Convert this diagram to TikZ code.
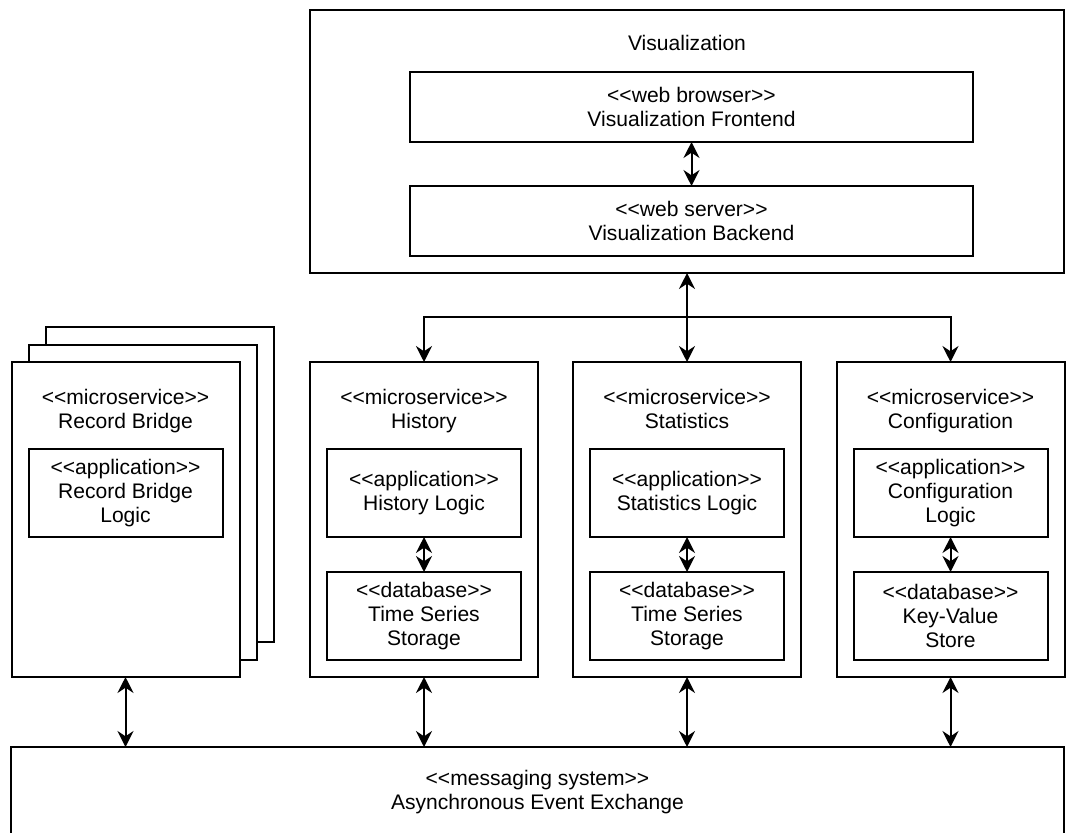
\documentclass[tikz,border=0pt]{standalone}
\usepackage{fontspec}
\setmainfont{Liberation Sans}[Ligatures=TeXOff]
\usetikzlibrary{arrows.meta}

\begin{document}
\begin{tikzpicture}[x=0.75pt,y=-0.75pt,
    every node/.style={font=\fontsize{15.8}{18}\selectfont, align=center},
    box/.style={draw, line width=1.5pt, fill=white, inner sep=0pt, outer sep=0pt},
    svc/.style={box, minimum width=171pt, minimum height=236.25pt},
    part/.style={box, minimum width=145.5pt, minimum height=66pt},
    title/.style={anchor=north, inner sep=0pt},
    link/.style={line width=1.5pt, {Stealth[length=12pt, width=12pt, inset=4pt]}-{Stealth[length=12pt, width=12pt, inset=4pt]}},
    tip/.style={line width=1.5pt, -{Stealth[length=12pt, width=12pt, inset=4pt]}}]
      \useasboundingbox (0,0) rectangle (1066,832);
      % visualization
      \node[box, minimum width=565.5pt, minimum height=197.25pt] (vis) at (687,141.5) {};
      \node[title] (vistitle) at (687,35) {Visualization};
      \node[box, minimum width=422.25pt, minimum height=52.5pt] (front) at (691.5,107) {<<web browser>>\\Visualization Frontend};
      \node[box, minimum width=422.25pt, minimum height=52.5pt] (back) at (691.5,221) {<<web server>>\\Visualization Backend};
      \draw[link] (front) -- (back);
      % record bridge stack
      \node[svc] (rb3) at (160,484.5) {};
      \node[svc] (rb2) at (142.5,502) {};
      \node[svc] (rb1) at (125.5,519.5) {};
      \node[title] (rbtitle) at (125.5,389) {<<microservice>>\\Record Bridge};
      \node[part] (rbapp) at (125.5,493) {<<application>>\\Record Bridge\\Logic};
      % microservices
      \node[svc] (hist) at (424,519.5) {};
      \node[title] (histtitle) at (424,389) {<<microservice>>\\History};
      \node[part] (histapp) at (424,493) {<<application>>\\History Logic};
      \node[part] (histdb) at (424,616) {<<database>>\\Time Series\\Storage};
      \node[svc] (stat) at (687,519.5) {};
      \node[title] (stattitle) at (687,389) {<<microservice>>\\Statistics};
      \node[part] (statapp) at (687,493) {<<application>>\\Statistics Logic};
      \node[part] (statdb) at (687,616) {<<database>>\\Time Series\\Storage};
      \node[svc] (conf) at (950.5,519.5) {};
      \node[title] (conftitle) at (950.5,389) {<<microservice>>\\Configuration};
      \node[part] (confapp) at (950.5,493) {<<application>>\\Configuration\\Logic};
      \node[part] (confdb) at (950.5,616) {<<database>>\\Key-Value\\Store};
      \draw[link] (histapp) -- (histdb);
      \draw[link] (statapp) -- (statdb);
      \draw[link] (confapp) -- (confdb);
      % messaging
      \node[box, minimum width=789.75pt, minimum height=72pt] (msg) at (537.5,795) {};
      \node[title] (msgtitle) at (537.5,770) {<<messaging system>>\\Asynchronous Event Exchange};
      % connections
      \coordinate (split) at (687,317);
      \draw[link] (vis) -- (stat);
      \draw[tip] (split) -| (hist);
      \draw[tip] (split) -| (conf);
      \draw[link] (rb1.south) -- (rb1.south |- msg.north);
      \draw[link] (hist.south) -- (hist.south |- msg.north);
      \draw[link] (stat.south) -- (stat.south |- msg.north);
      \draw[link] (conf.south) -- (conf.south |- msg.north);
\end{tikzpicture}
\end{document}
